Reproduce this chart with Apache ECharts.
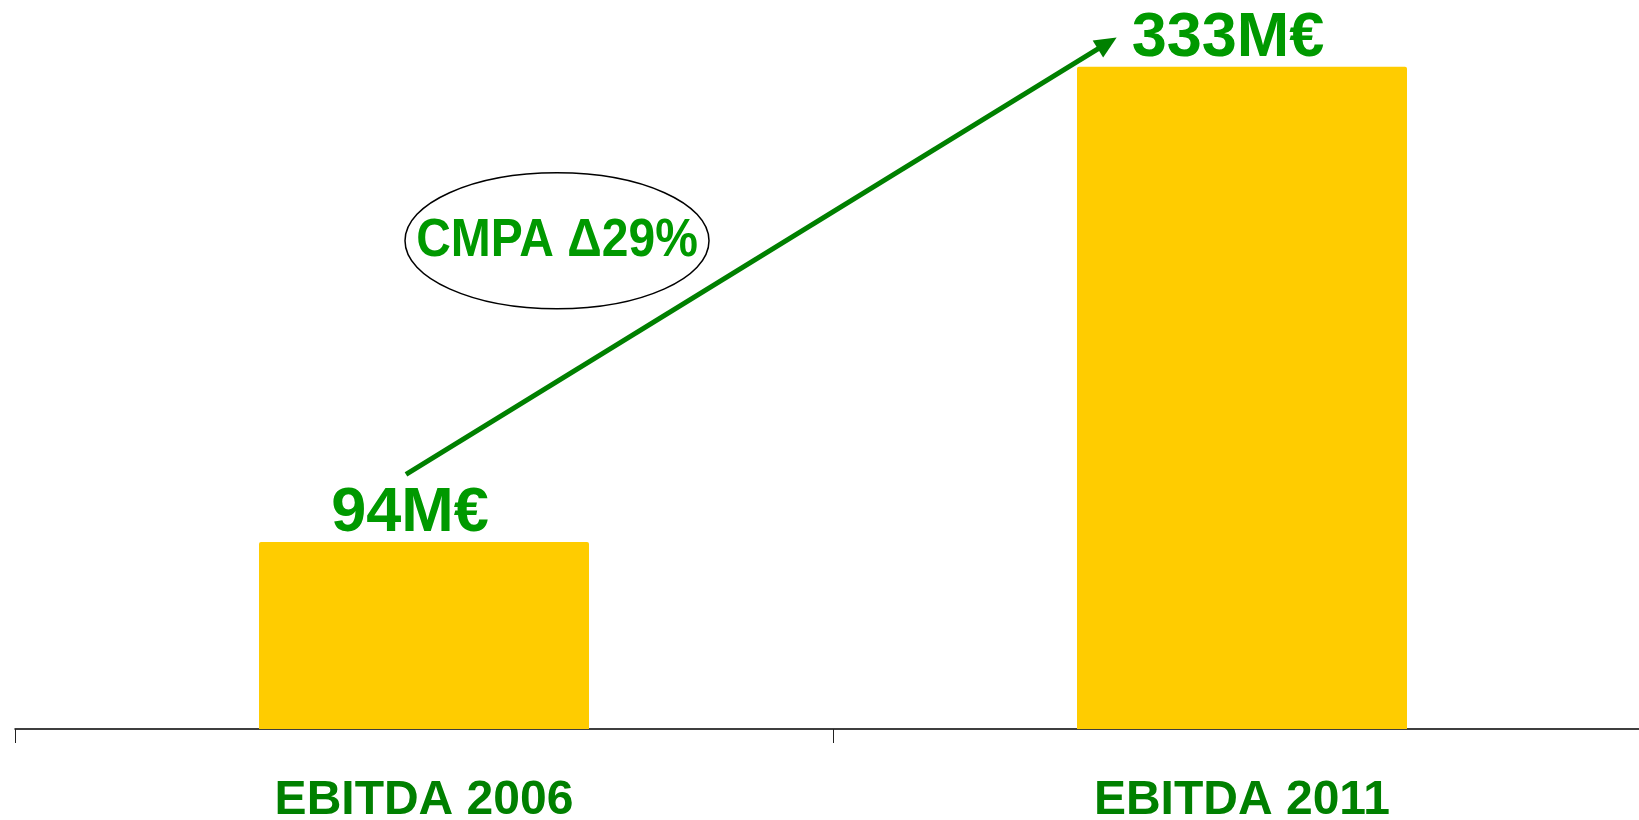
<!DOCTYPE html>
<html>
<head>
<meta charset="utf-8">
<script src="https://cdn.jsdelivr.net/npm/echarts@6/dist/echarts.min.js"></script>
<style>
html,body{margin:0;padding:0;background:#fff;}
#chart{width:1639px;height:820px;}
</style>
</head>
<body>
<div id="chart"></div>
<script>
const categories = ['EBITDA 2006', 'EBITDA 2011'];
const ebitda = [94, 333];
const unit = 'M€';
const cagrLabel = 'CMPA Δ29%';
// arrow endpoints in data space [x on hidden value axis, y value]
const arrowStart = [-0.022, 128];
const arrowEnd = [0.8353, 344.9];
const ellipseCenter = [0.1626, 245.5];

const chart = echarts.init(document.getElementById('chart'), null, {renderer: 'canvas'});
const FONT = '"Liberation Sans", Arial, sans-serif';

const option = {
  animation: false,
  backgroundColor: '#ffffff',
  grid: {left: 15, width: 1636, top: 33, height: 696, outerBoundsMode: 'none', containLabel: false},
  xAxis: [
    {
      type: 'category',
      data: categories,
      axisLine: {lineStyle: {color: '#000', width: 1.5}},
      axisTick: {show: true, length: 14, lineStyle: {color: '#222', width: 1}},
      axisLabel: {
        margin: 48,
        fontSize: 48,
        fontWeight: 'bold',
        color: '#008000',
        fontFamily: FONT
      }
    },
    {type: 'value', min: -0.5, max: 1.5, show: false}
  ],
  yAxis: {type: 'value', min: 0, max: 350, show: false, splitLine: {show: false}},
  series: [
    {
      type: 'bar',
      data: ebitda,
      barWidth: 330,
      itemStyle: {color: '#FFCC00', borderRadius: [2, 2, 0, 0]},
      label: {
        show: true,
        position: 'top',
        distance: 0,
        offset: [-14, 3],
        formatter: p => p.value + unit,
        fontSize: 63,
        fontWeight: 'bold',
        color: '#009900',
        fontFamily: FONT
      }
    },
    {
      type: 'line',
      xAxisIndex: 1,
      yAxisIndex: 0,
      data: [],
      markLine: {
        silent: true,
        symbol: ['none', 'triangle'],
        symbolSize: [20, 22],
        label: {show: false},
        lineStyle: {color: '#008000', width: 5, type: 'solid'},
        data: [[{coord: arrowStart}, {coord: arrowEnd}]]
      }
    }
  ]
};
chart.setOption(option);

const c = chart.convertToPixel({xAxisIndex: 1, yAxisIndex: 0}, ellipseCenter);
chart.setOption({
  graphic: [
    {
      type: 'ellipse',
      shape: {cx: c[0], cy: c[1], rx: 152, ry: 68},
      style: {fill: '#fff', stroke: '#000', lineWidth: 1.5},
      z: 10
    },
    {
      type: 'text',
      x: c[0],
      y: c[1] + 1,
      scaleY: 1.1,
      style: {
        text: cagrLabel,
        font: 'bold 48px ' + FONT,
        fill: '#009900',
        textAlign: 'center',
        textVerticalAlign: 'middle'
      },
      z: 11
    }
  ]
});
</script>
</body>
</html>
